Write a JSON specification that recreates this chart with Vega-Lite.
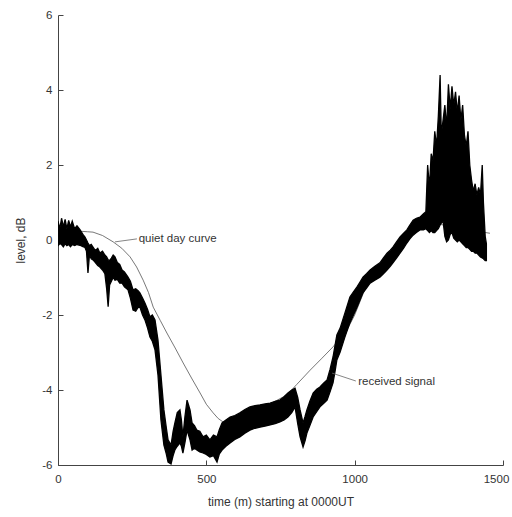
{
  "$schema": "https://vega.github.io/schema/vega-lite/v6.json",
  "width": 445,
  "height": 450,
  "autosize": {"type": "none"},
  "padding": {"left": 58, "top": 15, "right": 9, "bottom": 52},
  "background": "white",
  "config": {
    "view": {"stroke": null},
    "font": "Liberation Sans",
    "axis": {
      "grid": false,
      "domainColor": "#444",
      "domainWidth": 1,
      "tickColor": "#444",
      "tickWidth": 1,
      "tickSize": -5,
      "labelColor": "#333",
      "labelFont": "Liberation Sans",
      "labelFontSize": 11.5,
      "labelFlush": false,
      "labelOverlap": false,
      "labelBound": false,
      "titleFont": "Liberation Sans",
      "titleFontSize": 12,
      "titleFontWeight": "normal",
      "titleColor": "#333"
    }
  },
  "datasets": {
    "signal": [
      {"x":0,"hi":0.50,"lo":-0.15},{"x":6,"hi":0.30,"lo":-0.10},{"x":12,"hi":0.58,"lo":-0.12},{"x":18,"hi":0.35,"lo":-0.18},{"x":24,"hi":0.55,"lo":-0.10},{"x":30,"hi":0.30,"lo":-0.15},{"x":36,"hi":0.52,"lo":-0.12},{"x":42,"hi":0.35,"lo":-0.18},{"x":48,"hi":0.50,"lo":-0.12},{"x":56,"hi":0.30,"lo":-0.15},{"x":64,"hi":0.38,"lo":-0.12},{"x":74,"hi":0.28,"lo":-0.14},{"x":84,"hi":0.15,"lo":-0.18},{"x":91,"hi":0.08,"lo":-0.20},{"x":96,"hi":0.0,"lo":-0.30},{"x":101,"hi":-0.08,"lo":-0.88},{"x":106,"hi":-0.15,"lo":-0.40},{"x":112,"hi":-0.12,"lo":-0.50},{"x":118,"hi":-0.19,"lo":-0.53},{"x":126,"hi":-0.28,"lo":-0.60},{"x":134,"hi":-0.22,"lo":-0.68},{"x":141,"hi":-0.35,"lo":-0.72},{"x":150,"hi":-0.30,"lo":-0.80},{"x":158,"hi":-0.40,"lo":-0.90},{"x":164,"hi":-0.45,"lo":-1.30},{"x":169,"hi":-0.53,"lo":-1.78},{"x":174,"hi":-0.55,"lo":-1.20},{"x":180,"hi":-0.48,"lo":-1.10},{"x":186,"hi":-0.40,"lo":-1.00},{"x":192,"hi":-0.45,"lo":-1.07},{"x":200,"hi":-0.60,"lo":-1.05},{"x":208,"hi":-0.65,"lo":-1.15},{"x":216,"hi":-0.80,"lo":-1.15},{"x":224,"hi":-0.85,"lo":-1.25},{"x":236,"hi":-0.99,"lo":-1.33},{"x":244,"hi":-1.10,"lo":-1.55},{"x":253,"hi":-1.33,"lo":-1.87},{"x":262,"hi":-1.30,"lo":-1.90},{"x":270,"hi":-1.35,"lo":-1.80},{"x":276,"hi":-1.41,"lo":-1.79},{"x":285,"hi":-1.55,"lo":-2.00},{"x":293,"hi":-1.68,"lo":-2.13},{"x":302,"hi":-1.85,"lo":-2.35},{"x":310,"hi":-2.05,"lo":-2.59},{"x":318,"hi":-2.00,"lo":-2.70},{"x":327,"hi":-2.13,"lo":-2.93},{"x":337,"hi":-2.67,"lo":-3.60},{"x":347,"hi":-3.60,"lo":-4.80},{"x":357,"hi":-4.53,"lo":-5.47},{"x":365,"hi":-5.00,"lo":-5.70},{"x":371,"hi":-5.33,"lo":-5.92},{"x":381,"hi":-5.47,"lo":-5.97},{"x":388,"hi":-5.10,"lo":-5.75},{"x":394,"hi":-4.88,"lo":-5.60},{"x":402,"hi":-4.60,"lo":-5.50},{"x":411,"hi":-4.53,"lo":-5.41},{"x":416,"hi":-4.80,"lo":-5.50},{"x":421,"hi":-5.25,"lo":-5.68},{"x":428,"hi":-4.70,"lo":-5.40},{"x":435,"hi":-4.27,"lo":-5.07},{"x":440,"hi":-4.40,"lo":-5.20},{"x":445,"hi":-4.53,"lo":-5.33},{"x":452,"hi":-4.88,"lo":-5.60},{"x":460,"hi":-4.95,"lo":-5.55},{"x":468,"hi":-5.07,"lo":-5.60},{"x":478,"hi":-5.10,"lo":-5.65},{"x":489,"hi":-5.25,"lo":-5.68},{"x":500,"hi":-5.20,"lo":-5.72},{"x":512,"hi":-5.33,"lo":-5.79},{"x":524,"hi":-5.20,"lo":-5.75},{"x":536,"hi":-5.25,"lo":-5.92},{"x":544,"hi":-5.05,"lo":-5.70},{"x":553,"hi":-4.88,"lo":-5.60},{"x":566,"hi":-4.80,"lo":-5.50},{"x":580,"hi":-4.72,"lo":-5.41},{"x":596,"hi":-4.68,"lo":-5.32},{"x":613,"hi":-4.61,"lo":-5.25},{"x":630,"hi":-4.52,"lo":-5.15},{"x":647,"hi":-4.45,"lo":-5.07},{"x":664,"hi":-4.42,"lo":-5.02},{"x":681,"hi":-4.40,"lo":-4.99},{"x":698,"hi":-4.37,"lo":-4.96},{"x":715,"hi":-4.35,"lo":-4.93},{"x":732,"hi":-4.30,"lo":-4.90},{"x":748,"hi":-4.27,"lo":-4.85},{"x":762,"hi":-4.18,"lo":-4.80},{"x":775,"hi":-4.08,"lo":-4.72},{"x":788,"hi":-4.00,"lo":-4.60},{"x":799,"hi":-3.95,"lo":-4.45},{"x":808,"hi":-4.20,"lo":-4.90},{"x":816,"hi":-4.53,"lo":-5.25},{"x":826,"hi":-4.88,"lo":-5.52},{"x":833,"hi":-4.70,"lo":-5.35},{"x":839,"hi":-4.53,"lo":-5.15},{"x":849,"hi":-4.30,"lo":-4.95},{"x":860,"hi":-4.08,"lo":-4.72},{"x":872,"hi":-3.98,"lo":-4.58},{"x":883,"hi":-3.92,"lo":-4.45},{"x":895,"hi":-3.82,"lo":-4.36},{"x":907,"hi":-3.73,"lo":-4.27},{"x":917,"hi":-3.45,"lo":-4.05},{"x":927,"hi":-3.12,"lo":-3.81},{"x":934,"hi":-2.80,"lo":-3.50},{"x":940,"hi":-2.53,"lo":-3.20},{"x":951,"hi":-2.35,"lo":-2.99},{"x":967,"hi":-1.95,"lo":-2.59},{"x":984,"hi":-1.52,"lo":-2.21},{"x":996,"hi":-1.38,"lo":-2.00},{"x":1008,"hi":-1.25,"lo":-1.79},{"x":1018,"hi":-1.12,"lo":-1.60},{"x":1028,"hi":-0.99,"lo":-1.41},{"x":1040,"hi":-0.90,"lo":-1.28},{"x":1052,"hi":-0.80,"lo":-1.15},{"x":1068,"hi":-0.70,"lo":-1.07},{"x":1085,"hi":-0.61,"lo":-0.99},{"x":1097,"hi":-0.48,"lo":-0.90},{"x":1109,"hi":-0.35,"lo":-0.80},{"x":1120,"hi":-0.27,"lo":-0.70},{"x":1129,"hi":-0.19,"lo":-0.61},{"x":1141,"hi":-0.05,"lo":-0.48},{"x":1153,"hi":0.08,"lo":-0.35},{"x":1165,"hi":0.18,"lo":-0.22},{"x":1176,"hi":0.27,"lo":-0.08},{"x":1186,"hi":0.40,"lo":0.03},{"x":1197,"hi":0.53,"lo":0.13},{"x":1208,"hi":0.58,"lo":0.20},{"x":1220,"hi":0.61,"lo":0.27},{"x":1232,"hi":0.70,"lo":0.27},{"x":1240,"hi":0.75,"lo":0.30},
      {"x":1246,"hi":2.0,"lo":0.25},{"x":1252,"hi":1.4,"lo":0.2},{"x":1258,"hi":2.3,"lo":0.25},{"x":1264,"hi":2.1,"lo":0.2},{"x":1270,"hi":2.9,"lo":0.2},{"x":1276,"hi":2.5,"lo":0.25},{"x":1282,"hi":3.3,"lo":0.3},{"x":1288,"hi":4.4,"lo":0.4},{"x":1292,"hi":2.8,"lo":0.45},{"x":1298,"hi":3.2,"lo":0.5},{"x":1304,"hi":3.6,"lo":0.1},{"x":1310,"hi":3.0,"lo":-0.05},{"x":1316,"hi":4.15,"lo":0.0},{"x":1322,"hi":3.5,"lo":0.15},{"x":1328,"hi":4.1,"lo":0.2},{"x":1334,"hi":3.6,"lo":0.05},{"x":1340,"hi":3.95,"lo":0.0},{"x":1346,"hi":3.4,"lo":-0.05},{"x":1352,"hi":3.85,"lo":0.0},{"x":1358,"hi":3.2,"lo":-0.05},{"x":1364,"hi":3.6,"lo":-0.1},{"x":1370,"hi":2.8,"lo":-0.15},{"x":1376,"hi":2.5,"lo":-0.2},{"x":1382,"hi":2.9,"lo":-0.2},{"x":1388,"hi":2.0,"lo":-0.25},{"x":1394,"hi":1.6,"lo":-0.3},{"x":1400,"hi":1.3,"lo":-0.3},{"x":1406,"hi":1.5,"lo":-0.35},{"x":1412,"hi":1.2,"lo":-0.35},{"x":1418,"hi":1.4,"lo":-0.4},{"x":1424,"hi":1.2,"lo":-0.45},{"x":1430,"hi":2.0,"lo":-0.48},{"x":1434,"hi":1.0,"lo":-0.5},{"x":1440,"hi":0.1,"lo":-0.55},{"x":1444,"hi":-0.1,"lo":-0.55}
    ],
    "quiet": [
      {"x":0,"y":0.2},{"x":63,"y":0.24},{"x":100,"y":0.22},{"x":118,"y":0.21},{"x":150,"y":0.12},{"x":186,"y":-0.05},{"x":215,"y":-0.22},{"x":243,"y":-0.45},{"x":265,"y":-0.72},{"x":287,"y":-1.07},{"x":305,"y":-1.4},{"x":321,"y":-1.79},{"x":345,"y":-2.15},{"x":367,"y":-2.48},{"x":395,"y":-2.88},{"x":422,"y":-3.28},{"x":450,"y":-3.68},{"x":479,"y":-4.08},{"x":500,"y":-4.38},{"x":523,"y":-4.61},{"x":540,"y":-4.76},{"x":556,"y":-4.85},{"x":580,"y":-4.87},{"x":610,"y":-4.75},{"x":647,"y":-4.5},{"x":671,"y":-4.42},{"x":720,"y":-4.35},{"x":772,"y":-4.13},{"x":805,"y":-3.85},{"x":850,"y":-3.47},{"x":890,"y":-3.15},{"x":927,"y":-2.85},{"x":974,"y":-2.4},{"x":1000,"y":-2.0},{"x":1040,"y":-1.2},{"x":1100,"y":-0.65},{"x":1150,"y":-0.15},{"x":1210,"y":0.35},{"x":1260,"y":0.45},{"x":1300,"y":0.4},{"x":1350,"y":0.3},{"x":1400,"y":0.25},{"x":1456,"y":0.18}
    ],
    "leaders": [
      {"id":"q","x":192,"y":-0.05},{"id":"q","x":266,"y":0.03},
      {"id":"r","x":924,"y":-3.55},{"id":"r","x":1004,"y":-3.76}
    ],
    "labels": [
      {"x":272,"y":0.02,"label":"quiet day curve"},
      {"x":1012,"y":-3.78,"label":"received signal"}
    ]
  },
  "layer": [
    {
      "data": {"name": "quiet"},
      "mark": {"type": "line", "color": "#555", "strokeWidth": 0.8},
      "encoding": {
        "x": {"field": "x", "type": "quantitative", "scale": {"domain": [0, 1500], "nice": false},
          "axis": {"values": [0, 500, 1000, 1500], "format": "d", "title": "time (m) starting at 0000UT", "labelPadding": 13, "titlePadding": 12,
            "labelOffset": {"condition": {"test": "datum.value == 1500", "value": -7}, "value": 0}}},
        "y": {"field": "y", "type": "quantitative", "scale": {"domain": [-6, 6], "nice": false},
          "axis": {"values": [-6, -4, -2, 0, 2, 4, 6], "title": "level, dB", "labelExpr": "'' + datum.value", "labelPadding": 11, "titlePadding": 14}}
      }
    },
    {
      "data": {"name": "signal"},
      "mark": {"type": "area", "color": "black", "stroke": "black", "strokeWidth": 1.3, "clip": true},
      "encoding": {
        "x": {"field": "x", "type": "quantitative"},
        "y": {"field": "hi", "type": "quantitative"},
        "y2": {"field": "lo"}
      }
    },
    {
      "data": {"name": "leaders"},
      "mark": {"type": "line", "color": "#666", "strokeWidth": 0.8},
      "encoding": {
        "x": {"field": "x", "type": "quantitative"},
        "y": {"field": "y", "type": "quantitative"},
        "detail": {"field": "id"}
      }
    },
    {
      "data": {"name": "labels"},
      "mark": {"type": "text", "align": "left", "baseline": "middle", "fontSize": 11.5, "font": "Liberation Sans", "color": "#333"},
      "encoding": {
        "x": {"field": "x", "type": "quantitative"},
        "y": {"field": "y", "type": "quantitative"},
        "text": {"field": "label"}
      }
    }
  ]
}
